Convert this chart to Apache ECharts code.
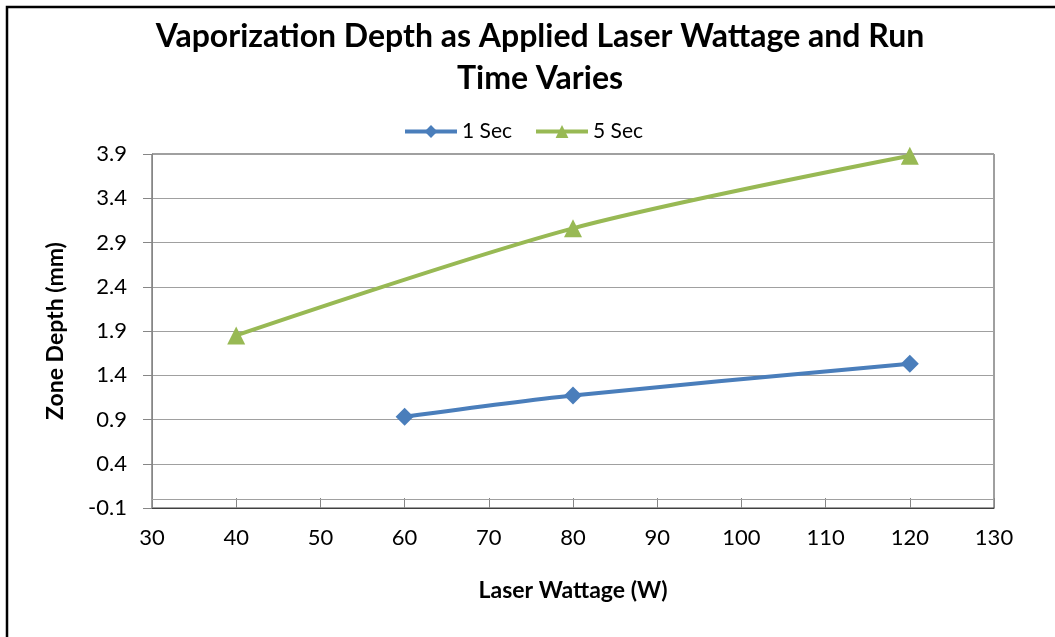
<!DOCTYPE html>
<html>
<head>
<meta charset="utf-8">
<script src="https://cdn.jsdelivr.net/npm/echarts@6/dist/echarts.min.js"></script>
<style>
  html, body { margin: 0; padding: 0; background: #fff; }
  #chart { width: 1055px; height: 637px; }
</style>
</head>
<body>
<div id="chart"></div>
<script>
// Laser wattage (W) and measured vaporization zone depth (mm)
const wattage1s = [60, 80, 120];
const depth1s = [0.93, 1.17, 1.53];
const wattage5s = [40, 80, 120];
const depth5s = [1.85, 3.06, 3.88];
const seriesNames = ['1 Sec', '5 Sec'];

const pairs = (xs, ys) => xs.map((x, i) => [x, ys[i]]);
const FONT = 'Lato, "Open Sans", sans-serif';

const chart = echarts.init(document.getElementById('chart'), null, { renderer: 'canvas' });
chart.setOption({
  animation: false,
  backgroundColor: '#ffffff',
  title: {
    text: 'Vaporization Depth as Applied Laser Wattage and Run\nTime Varies',
    left: 535,
    top: 11,
    textAlign: 'center',
    textStyle: {
      fontFamily: FONT,
      fontSize: 32,
      fontWeight: 'bold',
      color: '#000',
      lineHeight: 42
    }
  },
  legend: {
    top: 116,
    left: 398,
    itemWidth: 52,
    itemHeight: 16,
    itemGap: 22,
    lineStyle: { width: 4 },
    textStyle: { fontFamily: FONT, fontSize: 21, color: '#000' },
    data: seriesNames
  },
  grid: { left: 152, right: 61, top: 154, bottom: 129, show: true, borderColor: '#404040', borderWidth: 1 },
  xAxis: {
    type: 'value',
    min: 30, max: 130, interval: 10,
    name: 'Laser Wattage (W)',
    nameLocation: 'middle',
    nameGap: 71,
    nameTextStyle: { fontFamily: FONT, fontSize: 23, fontWeight: 'bold', color: '#000' },
    axisLine: { onZero: false, lineStyle: { color: '#404040', width: 1 } },
    axisTick: { inside: true, length: 10, lineStyle: { color: '#868686' } },
    axisLabel: { margin: 19, fontFamily: FONT, fontSize: 22, color: '#000' },
    splitLine: { show: false }
  },
  yAxis: {
    type: 'value',
    min: -0.1, max: 3.9, interval: 0.5,
    name: 'Zone Depth (mm)',
    nameLocation: 'middle',
    nameGap: 85,
    nameTextStyle: { fontFamily: FONT, fontSize: 23, fontWeight: 'bold', color: '#000' },
    axisLine: { show: true, lineStyle: { color: '#868686', width: 1 } },
    axisTick: { show: true, length: 9, lineStyle: { color: '#868686' } },
    axisLabel: { margin: 25, fontFamily: FONT, fontSize: 22, color: '#000',
      formatter: v => v.toFixed(1) },
    splitLine: { lineStyle: { color: '#a0a0a0', width: 1 } }
  },
  series: [
    {
      name: seriesNames[0],
      type: 'line',
      smooth: 0.3,
      data: pairs(wattage1s, depth1s),
      symbol: 'diamond',
      symbolSize: 18,
      lineStyle: { color: '#4a7ebb', width: 4 },
      itemStyle: { color: '#4a7ebb' },
      markLine: {
        silent: true,
        symbol: 'none',
        label: { show: false },
        lineStyle: { color: '#a0a0a0', type: 'solid', width: 1 },
        data: [{ yAxis: 0 }]
      },
      z: 3
    },
    {
      name: seriesNames[1],
      type: 'line',
      smooth: 0.3,
      data: pairs(wattage5s, depth5s),
      symbol: 'triangle',
      symbolSize: 18,
      lineStyle: { color: '#98b954', width: 4 },
      itemStyle: { color: '#98b954' },
      z: 3
    }
  ],
  graphic: [
    {
      type: 'rect',
      shape: { x: 7, y: 7, width: 1200, height: 800 },
      style: { fill: 'none', stroke: '#000', lineWidth: 2.5 },
      silent: true
    }
  ]
});
</script>
</body>
</html>
